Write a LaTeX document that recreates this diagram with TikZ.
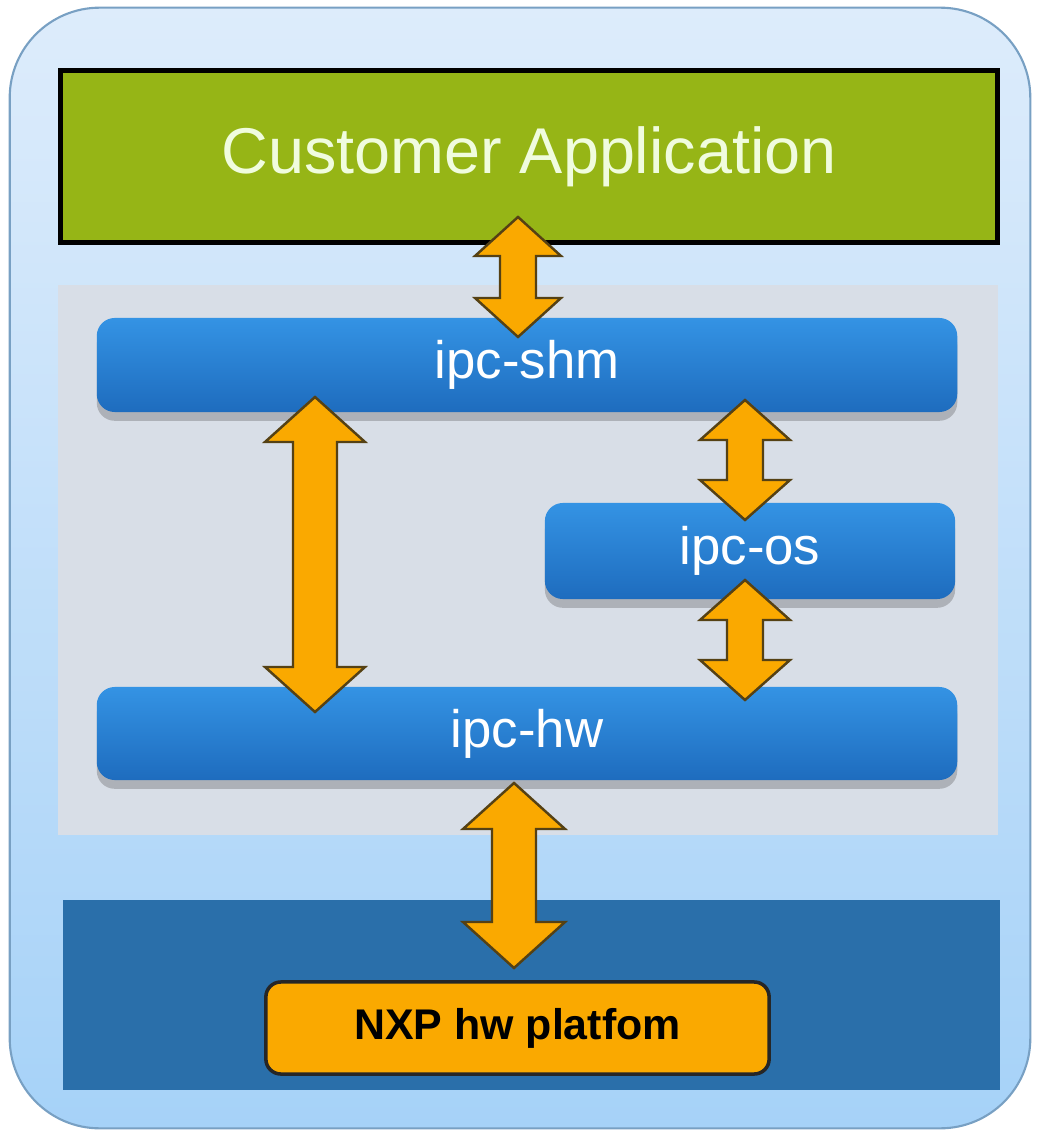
\documentclass[tikz,border=0pt]{standalone}
\usepackage{fontspec}
\setmainfont{Liberation Sans}
\usetikzlibrary{calc,shadows}
\definecolor{frametop}{RGB}{221,236,251}
\definecolor{framebot}{RGB}{166,210,248}
\definecolor{frameline}{RGB}{120,160,195}
\definecolor{appgreen}{RGB}{150,181,22}
\definecolor{apptext}{RGB}{240,252,222}
\definecolor{midgray}{RGB}{216,222,231}
\definecolor{blutop}{RGB}{52,147,228}
\definecolor{blubot}{RGB}{30,108,190}
\definecolor{band}{RGB}{42,111,170}
\definecolor{orng}{RGB}{250,169,0}
\definecolor{arrline}{RGB}{85,65,20}
\newcommand\dblarrow[5]{%
  \draw[orarrow] let \p1=(#1), \p2=(#2) in
    (\x1,\y1) -- (\x1+#3*0.01cm,\y1-#5*0.01cm) -- (\x1+#4*0.01cm,\y1-#5*0.01cm)
    -- (\x1+#4*0.01cm,\y2+#5*0.01cm) -- (\x1+#3*0.01cm,\y2+#5*0.01cm) -- (\x1,\y2)
    -- (\x1-#3*0.01cm,\y2+#5*0.01cm) -- (\x1-#4*0.01cm,\y2+#5*0.01cm)
    -- (\x1-#4*0.01cm,\y1-#5*0.01cm) -- (\x1-#3*0.01cm,\y1-#5*0.01cm) -- cycle;}
\begin{document}
\begin{tikzpicture}[x=0.01cm,y=-0.01cm,
  frame/.style={draw=frameline, line width=0.6pt, rounded corners=0.9cm,
    top color=frametop, bottom color=framebot, inner sep=0pt},
  appbox/.style={draw=black, line width=1.5pt, fill=appgreen, text=apptext,
    font=\fontsize{18.4}{22}\selectfont, inner sep=0pt},
  area/.style={fill=midgray, inner sep=0pt},
  bandbox/.style={fill=band, inner sep=0pt},
  ipcbox/.style={rounded corners=0.18cm, top color=blutop, bottom color=blubot,
    text=white, font=\fontsize{15}{18}\selectfont, inner sep=0pt,
    drop shadow={shadow xshift=0pt, shadow yshift=-2.5pt, opacity=0.3, fill=black!70}},
  hwbox/.style={draw=black!85, line width=1pt, rounded corners=0.15cm, fill=orng,
    font=\bfseries\fontsize{12.2}{14}\selectfont, inner sep=0pt},
  orarrow/.style={fill=orng, draw=arrline, line width=0.7pt, line join=miter}
]
\useasboundingbox (0,0) rectangle (1036,1134);
\node[frame, minimum width=10.2cm, minimum height=11.2cm] (frame) at (520,568) {};
\node[appbox, minimum width=9.37cm, minimum height=1.72cm] (cust) at (529,156.5) {\raisebox{-5pt}{Customer Application}};
\node[area, minimum width=9.4cm, minimum height=5.5cm] (core) at (528,560) {};
\node[bandbox, minimum width=9.37cm, minimum height=1.9cm] (hwband) at (531.5,995) {};
\node[ipcbox, minimum width=8.6cm, minimum height=0.94cm] (shm) at (527,365) {ipc-shm};
\node[ipcbox, minimum width=4.1cm, minimum height=0.96cm] (os) at (750,551) {ipc-os};
\node[ipcbox, minimum width=8.6cm, minimum height=0.93cm] (hw) at (527,733.5) {ipc-hw};
\node[hwbox, minimum width=5.03cm, minimum height=0.92cm] (nxp) at (517.5,1028) {NXP hw platfom};
% connector end points
\coordinate (a1t) at (518,217);  \coordinate (a1b) at (518,337);
\coordinate (a2t) at (315,397);  \coordinate (a2b) at (315,712);
\coordinate (a3t) at (745,400);  \coordinate (a3b) at (745,520);
\coordinate (a4t) at (745,580);  \coordinate (a4b) at (745,700);
\coordinate (a5t) at (514,783);  \coordinate (a5b) at (514,968);
\dblarrow{a1t}{a1b}{43}{18}{39}
\dblarrow{a2t}{a2b}{50}{22}{45}
\dblarrow{a3t}{a3b}{45}{18}{40}
\dblarrow{a4t}{a4b}{45}{18}{40}
\dblarrow{a5t}{a5b}{51}{22}{46}
\end{tikzpicture}
\end{document}
